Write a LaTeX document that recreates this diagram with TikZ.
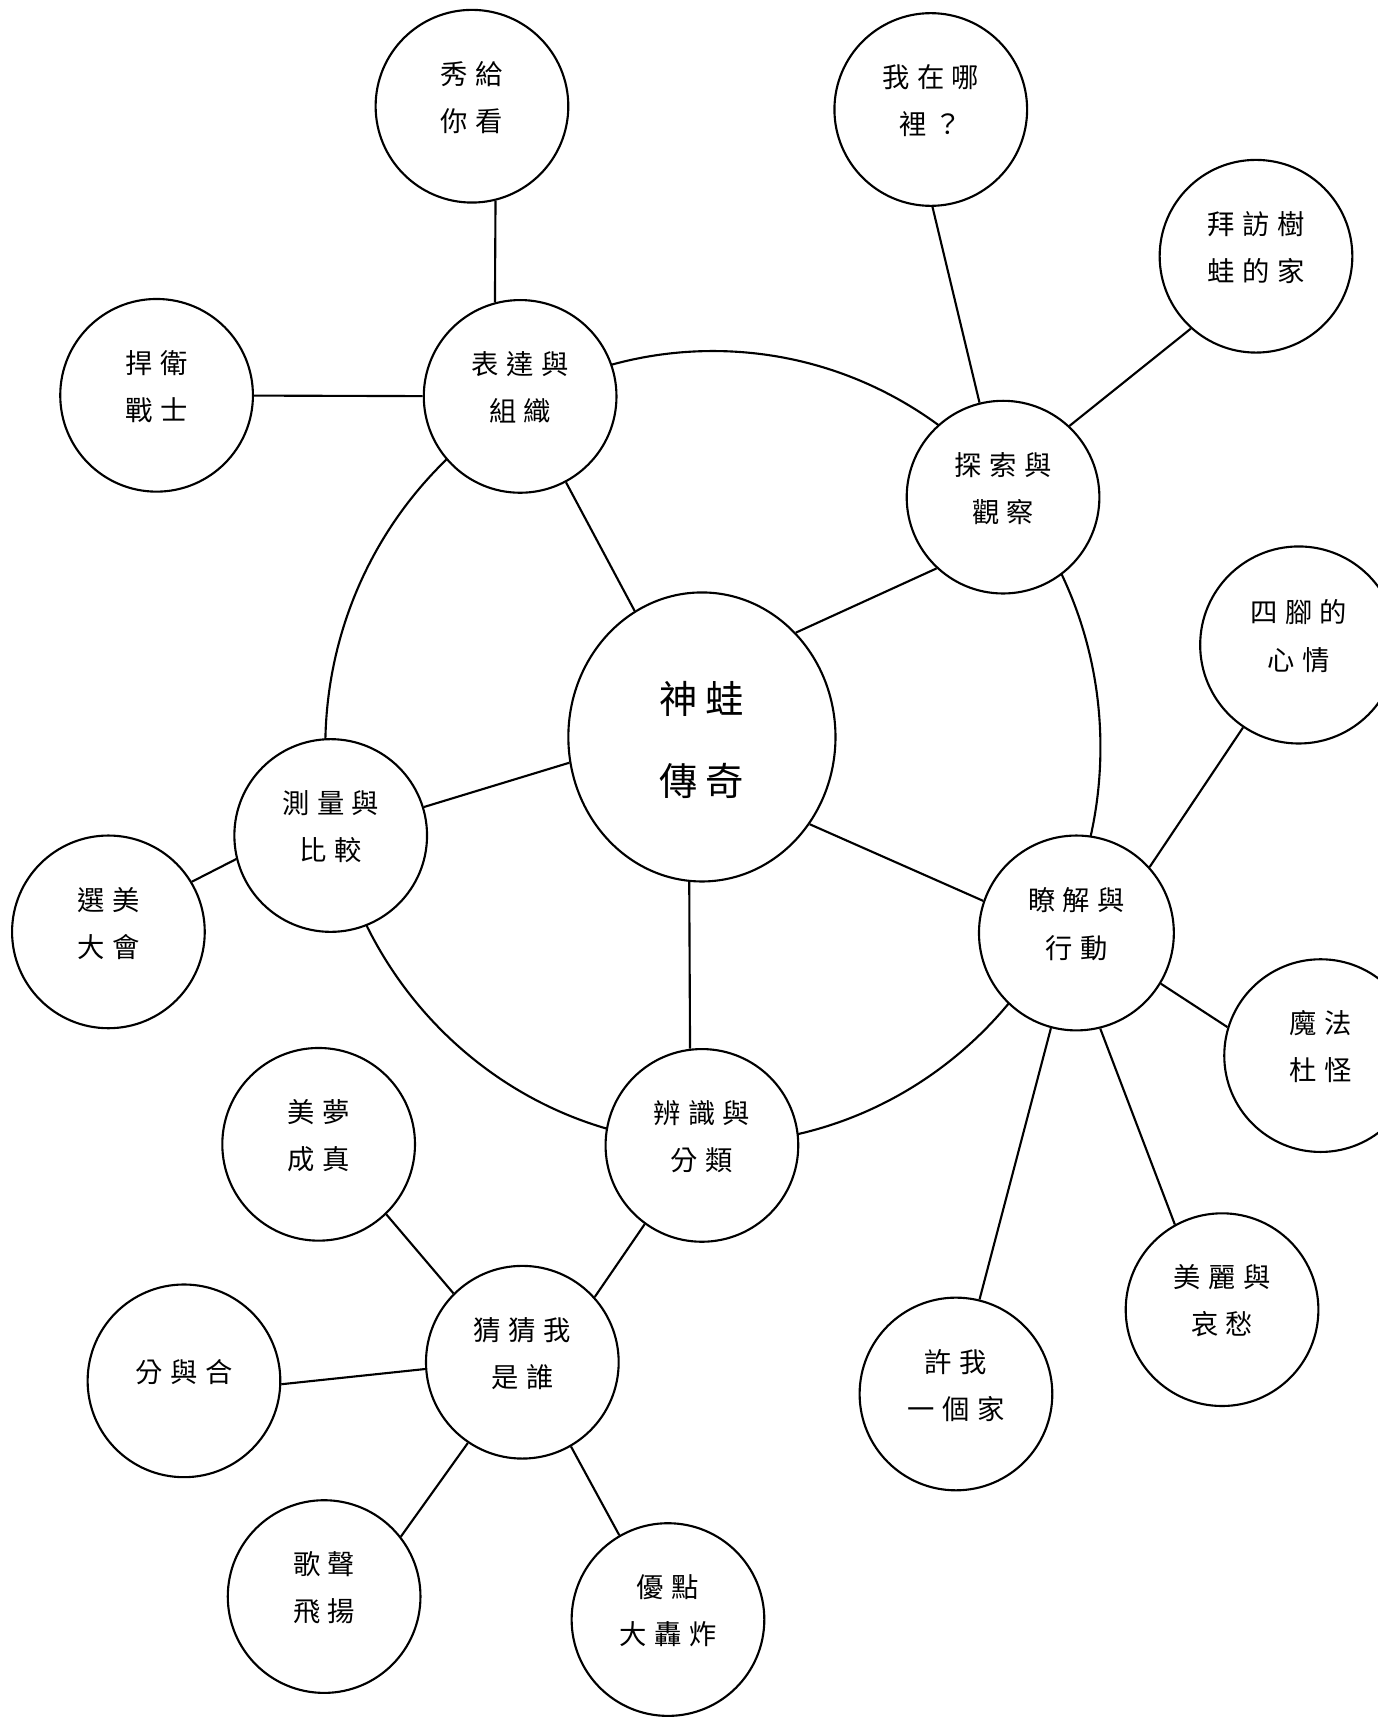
\documentclass[tikz,border=0pt]{standalone}
\usepackage{fontspec}
\newfontfamily\cjk{Noto Sans CJK TC}
\usetikzlibrary{shapes.geometric}
\newdimen\cjkk
\makeatletter
\def\lsp@end{}
\newcommand\lsp[1]{\lsp@first#1\lsp@end}
\def\lsp@first#1{#1\lsp@loop}
\def\lsp@loop#1{\ifx#1\lsp@end\else\kern\cjkk#1\expandafter\lsp@loop\fi}
\makeatother
\begin{document}
\begin{tikzpicture}[x=0.02cm, y=-0.02cm,
  lw/.style={line width=1.1pt},
  bub/.style={circle, draw, lw, fill=white, minimum size=3.52cm, inner sep=0pt},
  hub/.style={ellipse, draw, lw, fill=white, minimum width=4.88cm, minimum height=5.28cm, inner sep=0pt},
  lbl/.style={align=center, inner sep=0pt, font={\cjk\fontsize{14.2}{24.5}\selectfont\cjkk=0.27em}},
  hublbl/.style={align=center, inner sep=0pt, font={\cjk\fontsize{19.9}{42.7}\selectfont\cjkk=0.2em}},
  link/.style={lw}]
\useasboundingbox (0,0) rectangle (1258,1568);
% ring
\draw[lw] (651,682.5) ellipse [x radius=7.08cm, y radius=7.24cm];
% nodes
\node[hub] (Z) at (641,673) {};
\node[bub] (A) at (475,362) {};
\node[bub] (B) at (916,454) {};
\node[bub] (C) at (302,763) {};
\node[bub, minimum size=3.56cm] (D) at (983,852) {};
\node[bub] (E) at (641,1046) {};
\node[bub] (F) at (477,1244) {};
\node[bub] (G) at (431,97) {};
\node[bub] (H) at (143,361) {};
\node[bub] (I) at (850,100) {};
\node[bub] (J) at (1147,234) {};
\node[bub, minimum size=3.6cm] (K) at (1186,589) {};
\node[bub] (L) at (99,851) {};
\node[bub] (M) at (291,1045) {};
\node[bub] (N) at (1206,964) {};
\node[bub] (O) at (168,1261) {};
\node[bub] (P) at (296,1458) {};
\node[bub] (Q) at (610,1479) {};
\node[bub] (R) at (873,1273) {};
\node[bub] (S) at (1116,1196) {};
% texts
\node[hublbl] (Zt) at ([yshift=-0.05cm]Z.center) {\lsp{神蛙}\\\lsp{傳奇}};
\node[lbl] (At) at ([yshift=0.16cm]A.center) {\lsp{表達與}\\\lsp{組織}};
\node[lbl] (Bt) at ([yshift=0.16cm]B.center) {\lsp{探索與}\\\lsp{觀察}};
\node[lbl] (Ct) at ([yshift=0.16cm]C.center) {\lsp{測量與}\\\lsp{比較}};
\node[lbl] (Dt) at ([yshift=0.16cm]D.center) {\lsp{瞭解與}\\\lsp{行動}};
\node[lbl] (Et) at ([yshift=0.16cm]E.center) {\lsp{辨識與}\\\lsp{分類}};
\node[lbl] (Ft) at ([yshift=0.16cm]F.center) {\lsp{猜猜我}\\\lsp{是誰}};
\node[lbl] (Gt) at ([yshift=0.16cm]G.center) {\lsp{秀給}\\\lsp{你看}};
\node[lbl] (Ht) at ([yshift=0.16cm]H.center) {\lsp{捍衛}\\\lsp{戰士}};
\node[lbl] (It) at ([yshift=0.16cm]I.center) {\lsp{我在哪}\\\lsp{裡？}};
\node[lbl] (Jt) at ([yshift=0.16cm]J.center) {\lsp{拜訪樹}\\\lsp{蛙的家}};
\node[lbl] (Kt) at ([yshift=0.16cm]K.center) {\lsp{四腳的}\\\lsp{心情}};
\node[lbl] (Lt) at ([yshift=0.16cm]L.center) {\lsp{選美}\\\lsp{大會}};
\node[lbl] (Mt) at ([yshift=0.16cm]M.center) {\lsp{美夢}\\\lsp{成真}};
\node[lbl] (Nt) at ([yshift=0.16cm]N.center) {\lsp{魔法}\\\lsp{杜怪}};
\node[lbl] (Ot) at ([yshift=0.16cm]O.center) {\lsp{分與合}};
\node[lbl] (Pt) at ([yshift=0.16cm]P.center) {\lsp{歌聲}\\\lsp{飛揚}};
\node[lbl] (Qt) at ([yshift=0.16cm]Q.center) {\lsp{優點}\\\lsp{大轟炸}};
\node[lbl] (Rt) at ([yshift=0.16cm]R.center) {\lsp{許我}\\\lsp{一個家}};
\node[lbl] (St) at ([yshift=0.16cm]S.center) {\lsp{美麗與}\\\lsp{哀愁}};
% connectors
\draw[link] (G.-76) -- (A.105);
\draw[link] (H) -- (A);
\draw[link] (I.-89) -- (B.104);
\draw[link] (J.228) -- (B.47);
\draw[link] (A) -- (Z);
\draw[link] (B.227) -- (Z.48);
\draw[link] (C.17) -- (Z.191);
\draw[link] (L.31) -- (C.194);
\draw[link] (Z.-39) -- (D.161);
\draw[link] (Z.-95) -- (E.97);
\draw[link] (K.236) -- (D.42);
\draw[link] (D.-31) -- (N.163);
\draw[link] (D.-105) -- (R.76);
\draw[link] (D.-76) -- (S.119);
\draw[link] (E.234) -- (F.42);
\draw[link] (M.-46) -- (F.135);
\draw[link] (O.-2) -- (F.184);
\draw[link] (F.236) -- (P.38);
\draw[link] (F.-60) -- (Q.120);
\end{tikzpicture}
\end{document}
